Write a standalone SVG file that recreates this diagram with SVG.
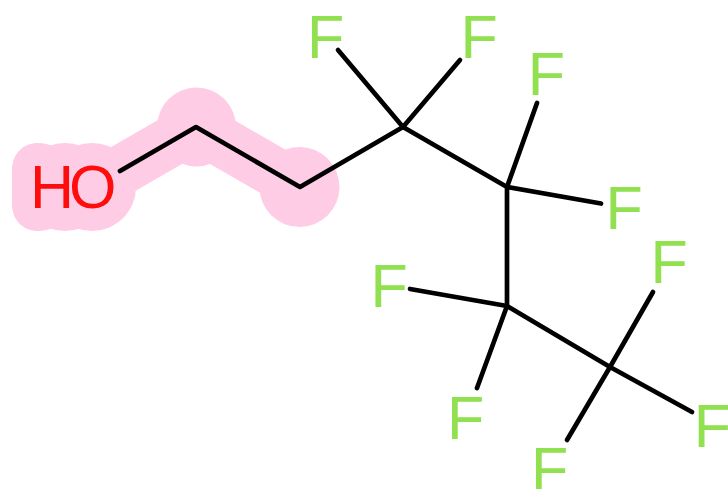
<svg xmlns="http://www.w3.org/2000/svg" width="728" height="489" viewBox="0 0 728 489">
<style>
.h{fill:none;stroke:#ffcce6;stroke-width:50;stroke-linecap:round;stroke-linejoin:round}
.hd{fill:#ffcce6}
.b{fill:none;stroke:#000;stroke-width:4.7;stroke-linecap:round;stroke-linejoin:round}
text{font-family:"Liberation Sans",Arial,sans-serif;font-size:61px;text-anchor:start}
.f{fill:#90e050}
.o{fill:#ff0d0d;letter-spacing:-5px}
</style>
<rect width="728" height="489" fill="#fff"/>
<g id="highlight">
<path class="h" d="M92 187L196 127L300 187"/>
<path class="hd" d="M12 187V170C12 153 24 143 38 143C48 143 56 147 60 150V224C56 227 48 231 38 231C24 231 12 221 12 204Z"/>
<circle class="hd" cx="65" cy="187" r="44"/>
<circle class="hd" cx="92" cy="187" r="44"/>
<circle class="hd" cx="196.500" cy="127" r="39.500"/>
<circle class="hd" cx="299.500" cy="187" r="40"/>
</g>
<g id="connectors">
<path class="b" d="M120 171L196 127L300 187L403 127L507 187L507 306L610 367"/>
<path class="b" d="M403 127L338 50"/>
<path class="b" d="M403 127L460 60"/>
<path class="b" d="M507 187L537 103"/>
<path class="b" d="M507 187L601 203.500"/>
<path class="b" d="M507 306L410 289"/>
<path class="b" d="M507 306L477 388"/>
<path class="b" d="M610 367L653 292"/>
<path class="b" d="M610 367L692 412"/>
<path class="b" d="M610 367L567 440"/>
</g>
<g id="oh"><text class="o" x="30" y="208">HO</text></g>
<g id="f1"><text class="f" x="307" y="57.500">F</text></g>
<g id="f2"><text class="f" x="460.500" y="57.500">F</text></g>
<g id="f3"><text class="f" x="527.700" y="95">F</text></g>
<g id="f4"><text class="f" x="605.500" y="228.500">F</text></g>
<g id="f5"><text class="f" x="370.500" y="306.700">F</text></g>
<g id="f6"><text class="f" x="650.500" y="283.300">F</text></g>
<g id="f7"><text class="f" x="447" y="439">F</text></g>
<g id="f8"><text class="f" x="693.700" y="447">F</text></g>
<g id="f9"><text class="f" x="531" y="490">F</text></g>
</svg>
